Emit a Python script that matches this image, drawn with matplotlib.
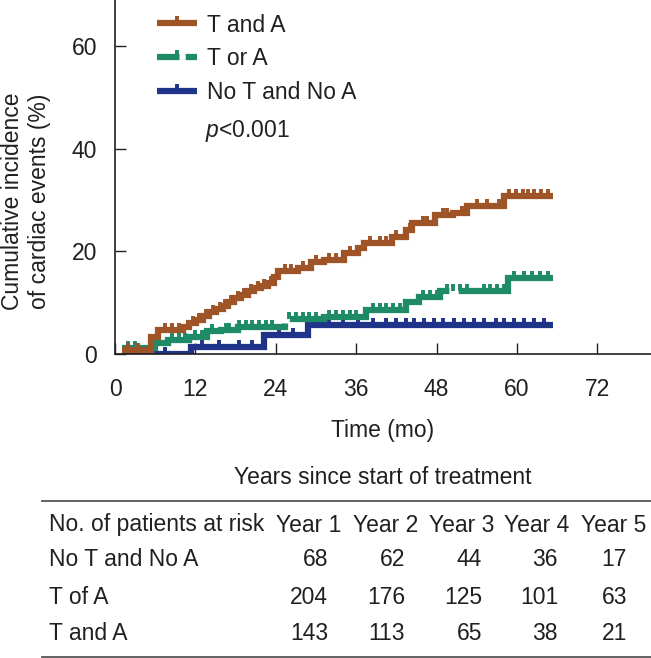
import numpy as np
import matplotlib
matplotlib.use("Agg")
import matplotlib.pyplot as plt
from matplotlib.path import Path
from matplotlib.lines import Line2D

# ---------------- data ----------------
brown_t = [1.0, 5.4, 6.4, 10.1, 11.1, 12.1, 13.1, 14.1, 15.1, 16.1, 16.8, 17.8, 18.8, 19.8, 20.8,
           21.8, 22.8, 23.8, 24.3, 27.3, 29.3, 31.2, 34.2, 36.2, 37.2, 41.4, 43.4, 44.4, 47.7,
           50.4, 52.6, 58.1, 65.3]
brown_y = [0.8, 3.3, 4.7, 5.2, 6.0, 6.6, 7.4, 8.1, 8.7, 9.4, 10.2, 10.9, 11.5, 12.2, 12.8,
           13.3, 13.8, 15.1, 16.1, 16.7, 18.0, 18.3, 19.6, 20.6, 21.6, 22.9, 24.2, 25.5, 27.0,
           27.5, 28.9, 30.7, 30.7]
brown_censor = [2, 3.5, 7.5, 8.5, 9.5, 11.6, 12.6, 13.6, 14.6, 15.6, 16.4, 17.3, 18.3, 19.3,
                20.3, 21.3, 22.3, 23.3, 25.3, 26.3, 28, 30, 32, 33, 35, 38, 39.6, 40.5, 42,
                44, 46, 46.6, 49, 49.6, 51.8, 54, 55.5, 57.3, 58.8, 59.9, 60.9, 61.6, 62.5,
                63.6, 64.6]

green_t = [1.0, 5.9, 7.9, 11.1, 13.8, 15.8, 18.3, 25.3, 31.2, 37.5, 43.4, 45.4, 48.5, 58.6, 65.3]
green_y = [1.2, 2.1, 2.7, 3.4, 4.4, 4.7, 5.3, 6.8, 7.3, 8.6, 10.2, 11.2, 12.2, 14.8, 14.8]
green_censor = [2, 3, 6.5, 8.5, 9.5, 10.5, 12, 13, 14.5, 16.5, 17, 18.5, 19.5, 20.5, 21.5,
                22.5, 23.5, 26, 27, 28, 29, 30, 32, 33, 34, 35, 36, 38.5, 39.5, 40.5, 41.5,
                42.5, 46, 47, 48, 49.5, 50.5, 51.5, 52.5, 55, 56, 57, 58, 59.5, 61, 62.2,
                63.5, 64.7]

blue_t = [1.0, 11.3, 22.3, 28.8, 65.3]
blue_y = [0.0, 1.3, 3.7, 5.7, 5.7]
blue_censor = [6, 7.5, 13, 15.5, 18.5, 20.5, 24.5, 26.5, 30, 32, 34, 36.3, 38.5, 40.4, 41.9,
               43.4, 44.6, 46.1, 47.6, 49, 50.6, 52.1, 53.6, 55.1, 56.9, 58.1, 59.6, 61,
               62.5, 64]

series_labels = ["T and A", "T or A", "No T and No A"]
p_text = r"$p$<0.001"

x_ticks = [0, 12, 24, 36, 48, 60, 72]
y_ticks = [0, 20, 40, 60]

years = ["Year 1", "Year 2", "Year 3", "Year 4", "Year 5"]
groups = ["No T and No A", "T of A", "T and A"]
risk_none = [68, 62, 44, 36, 17]
risk_either = [204, 176, 125, 101, 63]
risk_both = [143, 113, 65, 38, 21]

# ---------------- style ----------------
FONT = "Liberation Sans"
plt.rcParams["font.family"] = [FONT, "DejaVu Sans"]
plt.rcParams["mathtext.fontset"] = "custom"
plt.rcParams["mathtext.it"] = FONT + ":italic"
plt.rcParams["mathtext.rm"] = FONT
FS = 16.5
TXT = "#231f20"
C_BROWN = "#9e5427"
C_GREEN = "#1f8a68"
C_BLUE = "#1f3489"
LW = 4.5
MS = 10
MEW = 2.8

W, H = 651, 658
fig = plt.figure(figsize=(W / 100, H / 100), dpi=100)


def fx(px):
    return px / W


def fy(py):
    return 1 - py / H


ax = fig.add_axes([fx(115), fy(354), 536 / W, 354 / H])
ax.set_xlim(0, 80)
ax.set_ylim(0, 69)

tick_marker = Path([(0, 0), (0, 1)])


def draw(t, y, censor, color, z, dashes=None):
    kw = dict(color=color, lw=LW, solid_joinstyle="miter", solid_capstyle="butt", zorder=z)
    if dashes is not None:
        kw.update(dashes=dashes, dash_joinstyle="miter", dash_capstyle="butt")
    ax.step(t, y, where="post", **kw)
    ta = np.asarray(t)
    ya = np.asarray(y)
    c = np.asarray(censor, dtype=float)
    idx = np.searchsorted(ta, c, side="right") - 1
    ax.plot(c, ya[idx], ls="none", marker=tick_marker, ms=MS, mew=MEW,
            color=color, zorder=z)


draw(blue_t, blue_y, blue_censor, C_BLUE, 2)
draw(green_t, green_y, green_censor, C_GREEN, 3, dashes=(30, 1.5))
draw(brown_t, brown_y, brown_censor, C_BROWN, 4)

for s in ["top", "right"]:
    ax.spines[s].set_visible(False)
for s in ["left", "bottom"]:
    ax.spines[s].set_linewidth(1.2)
    ax.spines[s].set_color(TXT)
    ax.spines[s].set_zorder(5)

ax.set_xticks(x_ticks)
ax.set_yticks(y_ticks)
ax.tick_params(axis="both", direction="in", length=8, width=1.0, color=TXT,
               labelsize=FS, labelcolor=TXT)
ax.tick_params(axis="y", pad=13)
ax.tick_params(axis="x", pad=17)

ax.set_xlabel("Time (mo)", fontsize=FS, color=TXT)
ax.xaxis.set_label_coords(0.5, (354 - 430) / 354, transform=ax.transAxes)
ax.xaxis.label.set_va("center")
ax.set_ylabel("Cumulative incidence\nof cardiac events (%)", fontsize=FS, color=TXT,
              linespacing=1.2)
ax.yaxis.set_label_coords((26 - 115) / 536, (354 - 201) / 354)
ax.yaxis.label.set_va("center")

# legend
handles = [
    Line2D([], [], color=C_BROWN, lw=LW, marker=tick_marker, ms=MS, mew=MEW,
           solid_capstyle="butt"),
    Line2D([], [], color=C_GREEN, lw=LW, marker=tick_marker, ms=MS, mew=MEW,
           dashes=(3.6, 1.0), dash_capstyle="butt"),
    Line2D([], [], color=C_BLUE, lw=LW, marker=tick_marker, ms=MS, mew=MEW,
           solid_capstyle="butt"),
]
leg = fig.legend(handles, series_labels, loc="upper left",
                 bbox_to_anchor=(fx(157), fy(13.5)), frameon=False, fontsize=FS,
                 handlelength=1.75, handletextpad=0.43, labelspacing=0.47,
                 borderpad=0, borderaxespad=0, numpoints=1)
for t in leg.get_texts():
    t.set_color(TXT)

fig.text(fx(205), fy(131), p_text, fontsize=FS, color=TXT, va="center", ha="left")

# ---------------- table ----------------
fig.text(fx(383), fy(477), "Years since start of treatment", fontsize=FS, color=TXT,
         ha="center", va="center")
fig.add_artist(Line2D([fx(42), fx(651)], [fy(501), fy(501)], color="#555555", lw=1.3))
fig.add_artist(Line2D([fx(42), fx(651)], [fy(656.5), fy(656.5)], color="#555555", lw=1.3))

row_y = [525, 560, 597, 634]
head_right = [341, 418, 494, 569, 646]
num_right = [328, 405, 482, 558, 627]

fig.text(fx(49), fy(row_y[0]), "No. of patients at risk", fontsize=FS, color=TXT,
         ha="left", va="center")
for j, yr in enumerate(years):
    fig.text(fx(head_right[j]), fy(row_y[0]), yr, fontsize=FS, color=TXT,
             ha="right", va="center")

for i, (g, vals) in enumerate(zip(groups, [risk_none, risk_either, risk_both])):
    yy = fy(row_y[i + 1])
    fig.text(fx(49), yy, g, fontsize=FS, color=TXT, ha="left", va="center")
    for j, v in enumerate(vals):
        fig.text(fx(num_right[j]), yy, str(v), fontsize=FS, color=TXT,
                 ha="right", va="center")

fig.savefig("out.png", dpi=100)
